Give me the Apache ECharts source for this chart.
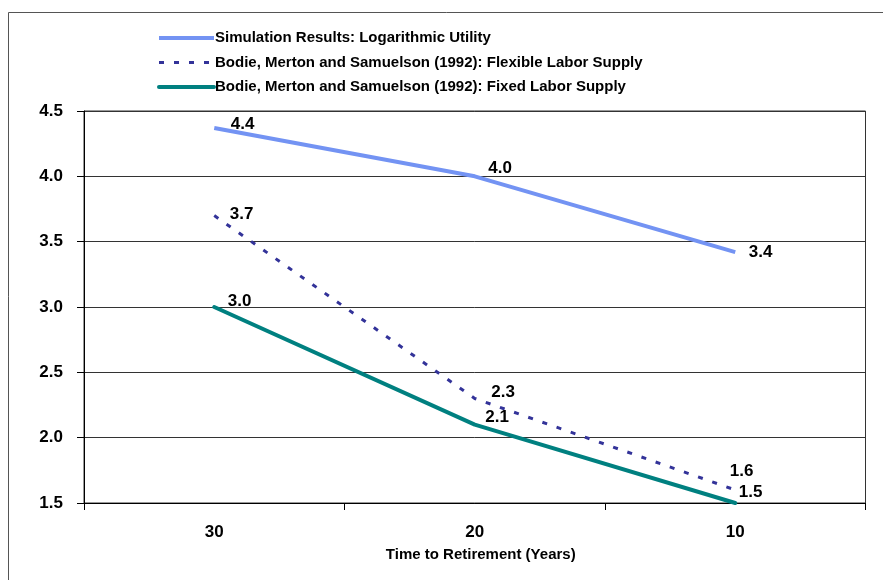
<!DOCTYPE html>
<html>
<head>
<meta charset="utf-8">
<script src="https://cdn.jsdelivr.net/npm/echarts@6/dist/echarts.min.js"></script>
<style>
html,body{margin:0;padding:0;background:#fff;}
#chart{width:883px;height:580px;}
</style>
</head>
<body>
<div id="chart"></div>
<script>
// Data
const categories = ['30', '20', '10'];
const seriesNames = [
  'Simulation Results: Logarithmic Utility',
  'Bodie, Merton and Samuelson (1992): Flexible Labor Supply',
  'Bodie, Merton and Samuelson (1992): Fixed Labor Supply'
];
const logUtility = [4.37, 4.0, 3.42];
const flexibleLabor = [3.7, 2.3, 1.6];
const fixedLabor = [3.0, 2.1, 1.5];
const yTicks = { min: 1.5, max: 4.5, interval: 0.5 };

// Styling: per-point label offsets (style only)
const logOffsets = [[16, -4], [13, -8], [13, 0]];
const flexOffsets = [[15, -1], [16, -6], [-6, -19]];
const fixedOffsets = [[13, -6], [10, -7], [3, -11]];

const FONT = 'Liberation Sans, Arial, sans-serif';
const labelFont = { fontFamily: FONT, fontWeight: 'bold', fontSize: 17, color: '#000' };

function buildData(values, offsets) {
  return values.map((v, i) => ({
    value: v,
    label: { offset: offsets[i] }
  }));
}

function makeSeries(name, values, offsets, lineStyle) {
  return {
    name: name,
    type: 'line',
    data: buildData(values, offsets),
    symbol: 'circle',
    symbolSize: 1,
    showSymbol: true,
    lineStyle: lineStyle,
    itemStyle: { color: 'rgba(0,0,0,0)' },
    label: Object.assign({
      show: true,
      position: 'right',
      distance: 0,
      formatter: p => Number(p.value).toFixed(1)
    }, labelFont),
    emphasis: { disabled: true },
    animation: false
  };
}

const chart = echarts.init(document.getElementById('chart'), null, { renderer: 'canvas' });

chart.setOption({
  backgroundColor: '#fff',
  animation: false,
  graphic: [{
    type: 'rect',
    shape: { x: 8.5, y: 12.5, width: 900, height: 600 },
    style: { fill: 'none', stroke: '#555', lineWidth: 1 },
    silent: true,
    z: -10
  }],
  legend: {
    orient: 'vertical',
    left: 157,
    top: 30,
    padding: 0,
    itemWidth: 55,
    itemHeight: 16,
    itemGap: 8.5,
    data: seriesNames,
    itemStyle: { opacity: 0 },
    lineStyle: { width: 'inherit' },
    textStyle: {
      fontFamily: FONT,
      fontWeight: 'bold',
      fontSize: 15,
      color: '#000',
      lineHeight: 16,
      padding: [0, 0, 0, -4]
    },
    selectedMode: false
  },
  grid: {
    left: 84,
    top: 111,
    right: 17.5,
    bottom: 77,
    show: true,
    borderColor: '#333',
    borderWidth: 1,
    backgroundColor: 'transparent'
  },
  xAxis: {
    type: 'category',
    data: categories,
    boundaryGap: true,
    name: 'Time to Retirement (Years)',
    nameLocation: 'middle',
    nameGap: 44,
    nameTextStyle: { fontFamily: FONT, fontWeight: 'bold', fontSize: 15, color: '#000', padding: [0, 0, 0, 12] },
    axisLine: { show: true, lineStyle: { color: '#000', width: 1 } },
    axisTick: { show: true, inside: false, length: 7, alignWithLabel: false, lineStyle: { color: '#000' } },
    axisLabel: { margin: 21, fontFamily: FONT, fontWeight: 'bold', fontSize: 17, color: '#000' },
    splitLine: { show: false }
  },
  yAxis: {
    type: 'value',
    min: yTicks.min,
    max: yTicks.max,
    interval: yTicks.interval,
    axisLine: { show: true, lineStyle: { color: '#000', width: 1 } },
    axisTick: { show: true, inside: false, length: 7, lineStyle: { color: '#000' } },
    axisLabel: {
      margin: 21,
      formatter: v => v.toFixed(1),
      fontFamily: FONT, fontWeight: 'bold', fontSize: 17, color: '#000'
    },
    splitLine: { show: true, lineStyle: { color: '#333', width: 1 } }
  },
  series: [
    makeSeries(seriesNames[0], logUtility, logOffsets, { color: '#7393f3', width: 4, type: 'solid' }),
    makeSeries(seriesNames[1], flexibleLabor, flexOffsets, { color: '#333399', width: 3, type: [5, 10], cap: 'butt' }),
    makeSeries(seriesNames[2], fixedLabor, fixedOffsets, { color: '#008080', width: 4, type: 'solid', cap: 'round' })
  ]
});
</script>
</body>
</html>
